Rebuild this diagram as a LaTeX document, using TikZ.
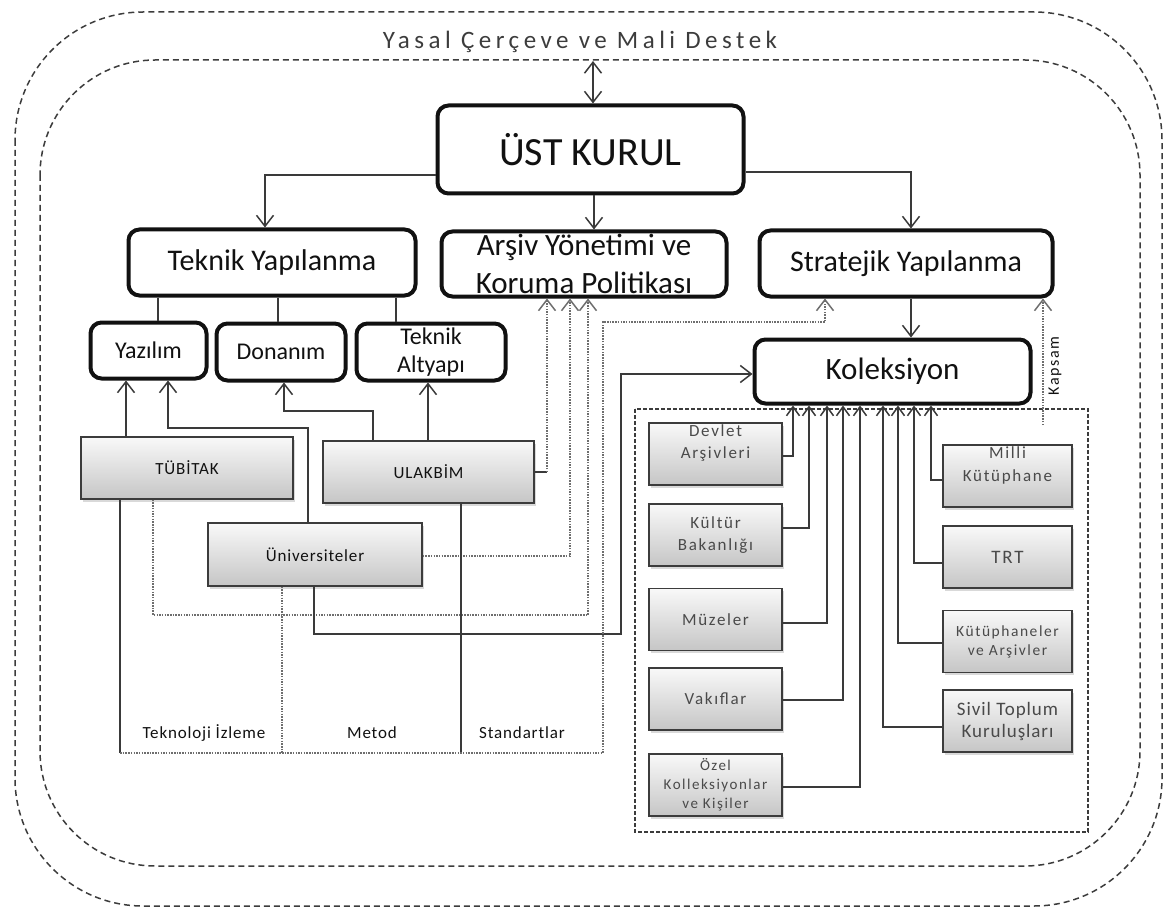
\documentclass[tikz,border=0pt]{standalone}
\usepackage{fontspec}
\setmainfont{Carlito}
\newfontfamily\trackfont[LetterSpace=18]{Carlito}
\newfontfamily\memberfont[LetterSpace=10]{Carlito}
\newfontfamily\unitfont[LetterSpace=5]{Carlito}
\usetikzlibrary{arrows.meta,shadows}

\definecolor{ink}{HTML}{111111}
\definecolor{wire}{HTML}{3A3A3A}
\definecolor{dotwire}{HTML}{6E6E6E}
\definecolor{frame}{HTML}{3C3C3C}
\definecolor{membertext}{HTML}{4A4A4A}

\tikzset{
  >={Straight Barb[length=11pt,width=17pt]},
  kolarrow/.style={-{Straight Barb[length=9pt,width=13pt]}},
  mainbox/.style={draw=ink, line width=4pt, rounded corners=11pt, fill=white,
    inner sep=0pt, align=center, text=ink},
  unitbox/.style={draw=frame, line width=1.4pt, top color=gray!5, bottom color=gray!45,
    drop shadow={shadow xshift=2pt, shadow yshift=-2.5pt, opacity=0.3},
    inner sep=0pt, align=center, text=ink},
  memberbox/.style={unitbox, minimum width=133pt, minimum height=62pt, text=membertext},
  membertextstyle/.style={align=center, text=membertext, inner sep=0pt},
  wireline/.style={draw=wire, line width=1.5pt},
  dotline/.style={draw=dotwire, line width=1.5pt, dash pattern=on 1.5pt off 1.2pt},
  outerframe/.style={draw=frame, line width=1.5pt, dash pattern=on 6pt off 4pt},
  groupframe/.style={draw=frame, line width=1.3pt, dash pattern=on 4pt off 2pt},
  bottomlabel/.style={font=\unitfont\fontsize{17}{19}\selectfont, text=ink, inner sep=0pt},
}

\begin{document}
\begin{tikzpicture}[x=1pt,y=-1pt]
\useasboundingbox (0,0) rectangle (1170,912);

% legal and financial frame, and the inner working area
\draw[outerframe, rounded corners=128pt] (15,12) rectangle (1162,906);
\draw[outerframe, rounded corners=115pt] (40,60) rectangle (1140,866);
\node[font=\trackfont\fontsize{25}{27}\selectfont, text=frame, inner sep=0pt] (title)
  at (580,42) {Yasal Çerçeve ve Mali Destek};

% collection partners area
\draw[groupframe] (635,409) rectangle (1088,832);

% governing and structural units
\node[mainbox, minimum width=306pt, minimum height=88pt, font=\fontsize{40}{44}\selectfont]
  (ust) at (590.5,149.5) {ÜST KURUL};
\node[mainbox, minimum width=287pt, minimum height=66pt, font=\fontsize{30}{32}\selectfont]
  (teknik) at (272,262.5) {Teknik Yapılanma};
\node[mainbox, minimum width=285pt, minimum height=65pt, font=\fontsize{31}{38}\selectfont]
  (arsiv) at (584,264) {Arşiv Yönetimi ve\\Koruma Politikası};
\node[mainbox, minimum width=293pt, minimum height=66pt, font=\fontsize{30}{32}\selectfont]
  (strat) at (906,263.5) {Stratejik Yapılanma};

\node[mainbox, minimum width=116pt, minimum height=56pt, font=\fontsize{24}{28}\selectfont]
  (yazilim) at (148.5,350.5) {Yazılım};
\node[mainbox, minimum width=129pt, minimum height=57pt, font=\fontsize{24}{28}\selectfont]
  (donanim) at (281,352) {Donanım};
\node[mainbox, minimum width=149pt, minimum height=57pt, font=\fontsize{24}{28}\selectfont]
  (altyapi) at (431,352) {Teknik\\Altyapı};
\node[mainbox, minimum width=276pt, minimum height=64pt, font=\fontsize{31}{34}\selectfont]
  (kol) at (892.5,371.5) {Koleksiyon};

% technical institutions
\node[unitbox, minimum width=212pt, minimum height=62pt, font=\unitfont\fontsize{17}{20}\selectfont]
  (tubitak) at (187,468) {TÜBİTAK};
\node[unitbox, minimum width=211pt, minimum height=62pt, font=\unitfont\fontsize{17}{20}\selectfont]
  (ulakbim) at (428.5,472) {ULAKBİM};
\node[unitbox, minimum width=214pt, minimum height=63pt, font=\unitfont\fontsize{17}{20}\selectfont]
  (univ) at (315,554.5) {Üniversiteler};

% collection partners, left column
\node[memberbox] (devlet) at (715.5,454) {};
\node[membertextstyle, font=\memberfont\fontsize{17}{22}\selectfont] (devlettext)
  at ([yshift=11pt]devlet.center) {Devlet\\Arşivleri};
\node[memberbox, font=\memberfont\fontsize{17}{22}\selectfont] (kultur) at (715.5,535) {Kültür\\Bakanlığı};
\node[memberbox, font=\memberfont\fontsize{17}{22}\selectfont] (muzeler) at (715.5,619.5) {Müzeler};
\node[memberbox, font=\memberfont\fontsize{17}{22}\selectfont] (vakif) at (715.5,699) {Vakıflar};
\node[memberbox, font=\memberfont\fontsize{15}{19}\selectfont] (ozel) at (715.5,785) {Özel\\Kolleksiyonlar\\ve Kişiler};

% collection partners, right column
\node[memberbox, minimum width=129pt] (milli) at (1007.5,476) {};
\node[membertextstyle, font=\memberfont\fontsize{17}{23}\selectfont] (millitext)
  at ([yshift=11pt]milli.center) {Milli\\Kütüphane};
\node[memberbox, minimum width=129pt, font=\memberfont\fontsize{19}{22}\selectfont] (trt) at (1007.5,557) {TRT};
\node[memberbox, minimum width=129pt, font=\memberfont\fontsize{15.5}{19}\selectfont] (kutup) at (1007.5,641.5) {Kütüphaneler\\ve Arşivler};
\node[memberbox, minimum width=129pt, font=\unitfont\fontsize{19}{22}\selectfont] (sivil) at (1007.5,721) {Sivil Toplum\\Kuruluşları};

% board links
\coordinate (gate) at (593,61);
\draw[wireline,<->] (gate) -- (ust.north -| gate);
\draw[wireline,->] (ust.west |- 0,175) -| (teknik.north -| 265,0);
\draw[wireline,->] (ust.south -| 594,0) -- (arsiv.north -| 594,0);
\draw[wireline,->] (ust.east |- 0,172) -| (strat.north -| 911,0);
\draw[wireline,->] (strat.south -| 911,0) -- (kol.north -| 911,0);

% technical structure branches
\draw[wireline] (teknik.south -| 158,0) -- (yazilim.north -| 158,0);
\draw[wireline] (teknik.south -| 278,0) -- (donanim.north -| 278,0);
\draw[wireline] (teknik.south -| 396,0) -- (altyapi.north -| 396,0);

% institutions to technical components
\draw[wireline,->] (tubitak.north -| 126,0) -- (yazilim.south -| 126,0);
\draw[wireline,->] (univ.north -| 308,0) |- (168,428) -- (yazilim.south -| 168,0);
\draw[wireline,->] (ulakbim.north -| 373,0) |- (284,411) -- (donanim.south -| 284,0);
\draw[wireline,->] (ulakbim.north -| 428,0) -- (altyapi.south -| 428,0);

% institutions to archive policy
\coordinate (ulakjoint) at (547,472);
\draw[wireline] (ulakbim.east) -- (ulakjoint);
\draw[dotline,->] (ulakjoint) -- (arsiv.south -| ulakjoint);
\draw[dotline,->] (univ.east |- 0,556) -| (arsiv.south -| 570,0);
\draw[dotline,->] (tubitak.south -| 153,0) |- (588,615) -- (arsiv.south -| 588,0);

% universities to collection
\draw[wireline,->] (univ.south -| 314,0) |- (621,634) |- (kol.west |- 0,374);

% monitoring, method and standards frame
\coordinate (fl) at (120,753);
\coordinate (fr) at (603,753);
\coordinate (ft) at (603,322);
\draw[wireline] (tubitak.south -| fl) -- (fl);
\draw[dotline] (univ.south -| 282,0) -- (282,753);
\draw[wireline] (ulakbim.south -| 461,0) -- (461,753);
\draw[dotline,->] (fl) -- (fr) -- (ft) -| (strat.south -| 825,0);
\node[bottomlabel] (lbtech) at (204,733) {Teknoloji İzleme};
\node[bottomlabel] (lbmetod) at (372,733) {Metod};
\node[bottomlabel] (lbstd) at (522,733) {Standartlar};

% scope
\coordinate (kapsamfoot) at (1043,425);
\draw[dotline,->] (kapsamfoot) -- (strat.south -| kapsamfoot);
\node[font=\memberfont\fontsize{16}{18}\selectfont, text=ink, rotate=90, inner sep=0pt]
  (kapsam) at (1055,366) {Kapsam};

% partners feeding the collection
\draw[wireline,kolarrow] (devlet.east |- 0,456) -| (kol.south -| 793,0);
\draw[wireline,kolarrow] (kultur.east |- 0,528) -| (kol.south -| 809,0);
\draw[wireline,kolarrow] (muzeler.east |- 0,623) -| (kol.south -| 827,0);
\draw[wireline,kolarrow] (vakif.east |- 0,700) -| (kol.south -| 843,0);
\draw[wireline,kolarrow] (ozel.east |- 0,787) -| (kol.south -| 860,0);
\draw[wireline,kolarrow] (sivil.west |- 0,727) -| (kol.south -| 883,0);
\draw[wireline,kolarrow] (kutup.west |- 0,643) -| (kol.south -| 898,0);
\draw[wireline,kolarrow] (trt.west |- 0,563) -| (kol.south -| 914,0);
\draw[wireline,kolarrow] (milli.west |- 0,480) -| (kol.south -| 931,0);
\end{tikzpicture}
\end{document}
